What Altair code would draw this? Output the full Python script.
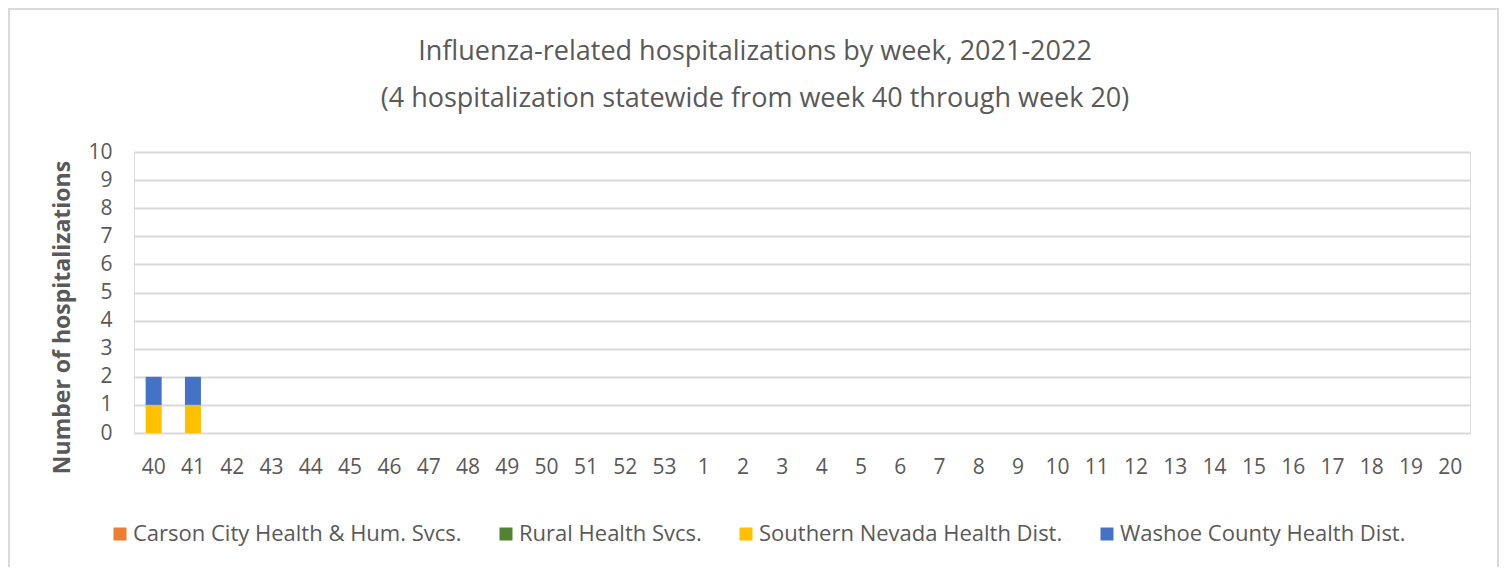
import altair as alt
import pandas as pd

weeks = ["40", "41", "42", "43", "44", "45", "46", "47", "48", "49", "50", "51", "52", "53",
         "1", "2", "3", "4", "5", "6", "7", "8", "9", "10", "11", "12", "13", "14", "15",
         "16", "17", "18", "19", "20"]
series = ["Carson City Health & Hum. Svcs.", "Rural Health Svcs.",
          "Southern Nevada Health Dist.", "Washoe County Health Dist."]
colors = ["#ED7D31", "#548235", "#FFC000", "#4472C4"]

carson = [0] * 34
rural = [0] * 34
southern = [1, 1] + [0] * 32
washoe = [1, 1] + [0] * 32
values = [carson, rural, southern, washoe]

rows = []
for si, (name, vals) in enumerate(zip(series, values)):
    for w, v in zip(weeks, vals):
        rows.append({"week": w, "district": name, "count": v, "order": si})
df = pd.DataFrame(rows)

W, H = 1336, 281
TXT = "#595959"
FONT = "Open Sans"

bars = alt.Chart(df).mark_bar(size=16).encode(
    x=alt.X("week:N", sort=weeks, title=None,
            axis=alt.Axis(labelAngle=0, labelFontSize=21, labelColor=TXT, labelFont=FONT,
                          ticks=False, domain=False, labelPadding=23, grid=False)),
    y=alt.Y("count:Q", scale=alt.Scale(domain=[0, 10]),
            title="Number of hospitalizations",
            axis=alt.Axis(values=list(range(0, 11)), labelFontSize=21, labelColor=TXT,
                          labelFont=FONT, ticks=False, domain=False, labelPadding=22,
                          gridColor="#D9D9D9", gridWidth=2,
                          titleFontSize=23, titleFontWeight="bold", titleColor=TXT,
                          titleFont=FONT, titleAngle=-90, titleX=-72, titleY=165,
                          titleAlign="center", titleBaseline="middle")),
    color=alt.Color("district:N", sort=series,
                    scale=alt.Scale(domain=series, range=colors),
                    legend=alt.Legend(title=None, orient="none", direction="horizontal",
                                      columns=4, legendX=-25, legendY=371,
                                      symbolType="square", symbolSize=169,
                                      symbolStrokeWidth=0, labelLimit=0,
                                      labelFontSize=22, labelColor=TXT, labelFont=FONT,
                                      columnPadding=33, labelOffset=2)),
    order=alt.Order("order:Q", sort="ascending"),
)

frame = alt.Chart(pd.DataFrame({"a": [0]})).mark_rect(
    fill=None, stroke="#D9D9D9", strokeWidth=2, clip=False
).encode(x=alt.value(-125), x2=alt.value(W + 28), y=alt.value(-143), y2=alt.value(H + 200))

chart = alt.layer(frame, bars).properties(
    width=W, height=H,
    autosize=alt.AutoSizeParams(type="none"),
    padding={"left": 126, "top": 144, "right": 29, "bottom": 134},
    title=alt.TitleParams(
        text=["Influenza-related hospitalizations by week, 2021-2022",
              "(4 hospitalization statewide from week 40 through week 20)"],
        fontSize=27, font=FONT, color=TXT, fontWeight="normal",
        anchor="middle", dx=-47, offset=-105, lineHeight=47),
).configure_view(stroke=None).configure(background="white")

chart.save("out.html", embed_options={"renderer": "svg", "actions": False})
